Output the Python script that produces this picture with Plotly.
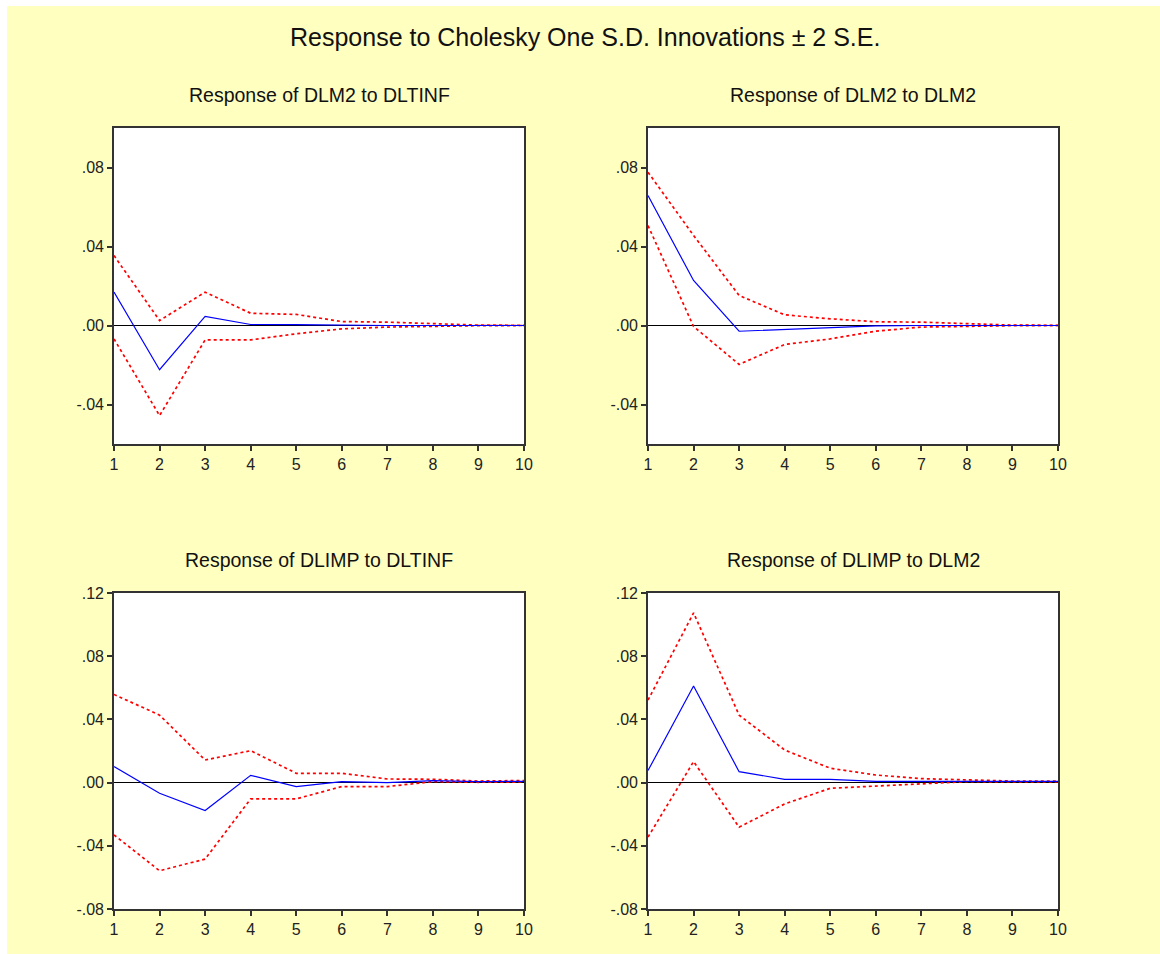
import plotly.graph_objects as go

W, H = 1160, 954

periods = list(range(1, 11))

# Impulse responses (point estimate, +2 S.E., -2 S.E.)
dlm2_dltinf = [0.0169, -0.0224, 0.0046, 0.0005, 0.0004, 0.0001, 0.0000, 0.0000, 0.0000, 0.0000]
dlm2_dltinf_hi = [0.0354, 0.0025, 0.0169, 0.0062, 0.0056, 0.0020, 0.0017, 0.0008, 0.0002, 0.0001]
dlm2_dltinf_lo = [-0.0068, -0.0456, -0.0073, -0.0073, -0.0042, -0.0017, -0.0008, -0.0003, -0.0001, 0.0000]

dlm2_dlm2 = [0.0658, 0.0228, -0.0029, -0.0020, -0.0008, -0.0002, 0.0000, 0.0000, 0.0000, 0.0000]
dlm2_dlm2_hi = [0.0776, 0.0456, 0.0152, 0.0054, 0.0034, 0.0019, 0.0017, 0.0008, 0.0002, 0.0001]
dlm2_dlm2_lo = [0.0506, -0.0005, -0.0197, -0.0096, -0.0068, -0.0029, -0.0008, -0.0003, -0.0001, 0.0000]

dlimp_dltinf = [0.0101, -0.0067, -0.0177, 0.0046, -0.0025, 0.0006, 0.0000, 0.0013, 0.0006, 0.0008]
dlimp_dltinf_hi = [0.0558, 0.0427, 0.0143, 0.0202, 0.0059, 0.0059, 0.0023, 0.0021, 0.0010, 0.0013]
dlimp_dltinf_lo = [-0.0331, -0.0558, -0.0484, -0.0103, -0.0103, -0.0025, -0.0025, 0.0006, 0.0002, 0.0004]

dlimp_dlm2 = [0.0076, 0.0611, 0.0069, 0.0021, 0.0021, 0.0008, 0.0008, 0.0010, 0.0008, 0.0008]
dlimp_dlm2_hi = [0.0522, 0.1074, 0.0427, 0.0206, 0.0091, 0.0048, 0.0025, 0.0017, 0.0010, 0.0010]
dlimp_dlm2_lo = [-0.0345, 0.0133, -0.0282, -0.0135, -0.0036, -0.0021, -0.0008, 0.0006, 0.0004, 0.0004]

panel_titles = ["Response of DLM2 to DLTINF", "Response of DLM2 to DLM2",
                "Response of DLIMP to DLTINF", "Response of DLIMP to DLM2"]

top_ticks = [-0.04, 0.0, 0.04, 0.08]
top_ticktext = ["-.04", ".00", ".04", ".08"]
top_range = [-0.06, 0.10]
bot_ticks = [-0.08, -0.04, 0.0, 0.04, 0.08, 0.12]
bot_ticktext = ["-.08", "-.04", ".00", ".04", ".08", ".12"]
bot_range = [-0.08, 0.12]

panels = [
    (dlm2_dltinf, dlm2_dltinf_hi, dlm2_dltinf_lo),
    (dlm2_dlm2, dlm2_dlm2_hi, dlm2_dlm2_lo),
    (dlimp_dltinf, dlimp_dltinf_hi, dlimp_dltinf_lo),
    (dlimp_dlm2, dlimp_dlm2_hi, dlimp_dlm2_lo),
]

# plot-area boxes in pixels: (left, right, top, bottom)
boxes = [(114, 524, 128, 444), (648, 1058, 128, 444),
         (114, 524, 593, 909), (648, 1058, 593, 909)]

fig = go.Figure()
FONT = "Liberation Sans, Arial, sans-serif"

for i, ((mid, hi, lo), (l, r, t, b)) in enumerate(zip(panels, boxes)):
    n = i + 1
    xa = "x" if n == 1 else f"x{n}"
    ya = "y" if n == 1 else f"y{n}"
    for band in (hi, lo):
        fig.add_trace(go.Scatter(x=periods, y=band, mode="lines", xaxis=xa, yaxis=ya,
                                 line=dict(color="#ff0000", width=1.7, dash="3px,3px"),
                                 showlegend=False, hoverinfo="skip"))
    fig.add_trace(go.Scatter(x=periods, y=mid, mode="lines", xaxis=xa, yaxis=ya,
                             line=dict(color="#0000ff", width=1.2),
                             showlegend=False))
    top = i < 2
    axis_common = dict(showline=True, linecolor="#333333", linewidth=1.6, mirror=True,
                       ticks="outside", ticklen=5, tickcolor="#333333", tickwidth=1.5,
                       showgrid=False, automargin=False,
                       tickfont=dict(family=FONT, size=16, color="#222222"))
    fig.layout[("xaxis" if n == 1 else f"xaxis{n}")] = dict(
        domain=[l / W, r / W], anchor=ya, range=[1, 10], tickvals=periods,
        zeroline=False, ticklabelstandoff=0, **axis_common)
    fig.layout[("yaxis" if n == 1 else f"yaxis{n}")] = dict(
        domain=[1 - b / H, 1 - t / H], anchor=xa,
        range=top_range if top else bot_range,
        tickvals=top_ticks if top else bot_ticks,
        ticktext=top_ticktext if top else bot_ticktext,
        zeroline=True, zerolinecolor="#000000", zerolinewidth=1.2, **axis_common)
    fig.add_annotation(text=panel_titles[i], x=(l + r) / 2 / W, y=1 - (t - 33) / H,
                       xref="paper", yref="paper", showarrow=False,
                       xanchor="center", yanchor="middle",
                       font=dict(family=FONT, size=19.5, color="#111111"))

fig.add_annotation(text="Response to Cholesky One S.D. Innovations \u00b1 2 S.E.",
                   x=585 / W, y=1 - 37 / H, xref="paper", yref="paper", showarrow=False,
                   xanchor="center", yanchor="middle",
                   font=dict(family=FONT, size=25, color="#111111"))

# light yellow canvas behind everything
fig.add_shape(type="rect", xref="paper", yref="paper", x0=7 / W, x1=1, y0=0, y1=1 - 6 / H,
              fillcolor="#ffffc0", line=dict(width=0), layer="below")
for (l, r, t, b) in boxes:
    fig.add_shape(type="rect", xref="paper", yref="paper", x0=l / W, x1=r / W,
                  y0=1 - b / H, y1=1 - t / H, fillcolor="#ffffff", line=dict(width=0),
                  layer="below")

fig.update_layout(width=W, height=H, margin=dict(l=0, r=0, t=0, b=0),
                  paper_bgcolor="#ffffff", plot_bgcolor="rgba(0,0,0,0)",
                  showlegend=False)

fig.write_html("out.html")
